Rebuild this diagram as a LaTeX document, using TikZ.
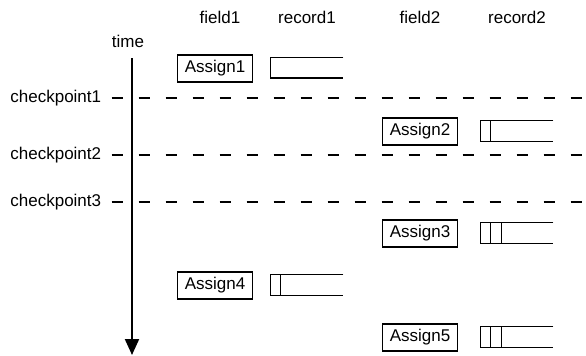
\documentclass[tikz,border=0pt]{standalone}
\usepackage{fontspec}
\setmainfont{Liberation Sans}
\usetikzlibrary{arrows.meta,calc}

\begin{document}
\begin{tikzpicture}[x=0.5pt,y=-0.5pt,font=\fontsize{8.5}{10}\selectfont,
    assign/.style={draw,line width=0.6pt,minimum width=37.5pt,minimum height=13.5pt,inner sep=0pt},
    record/.style={minimum width=36pt,minimum height=10pt,inner sep=0pt},
    check/.style={line width=0.6pt,dash pattern=on 5.5pt off 8pt}]
  \useasboundingbox (0,0) rectangle (586,355);
  \coordinate (edge) at (586,0);
  % column heads
  \node (field1)  at (220,17) {field1};
  \node (record1) at (307,17) {record1};
  \node (field2)  at (420,17) {field2};
  \node (record2) at (517,17) {record2};
  % time axis
  \node (time) at (128,41) {time};
  \coordinate (t0) at (132,58);
  \coordinate (t1) at (132,355);
  \draw[line width=1pt,-{Triangle[length=8pt,width=7pt]}] (t0) -- (t1);
  % checkpoints
  \foreach \c/\y in {1/98,2/155,3/202} {
    \node[anchor=west,inner sep=0pt] (cp\c) at (10,\y) {checkpoint\c};
    \draw[check] ([xshift=5pt]cp\c.east) -- (cp\c.east -| edge);
  }
  % assignments
  \node[assign] (a1) at (215,68.5)  {Assign1};
  \node[assign] (a2) at (420,131.5) {Assign2};
  \node[assign] (a3) at (420,233.5) {Assign3};
  \node[assign] (a4) at (215,285.5) {Assign4};
  \node[assign] (a5) at (420,337.5) {Assign5};
  % records
  \node[record] (r1) at (307,67.5) {};
  \node[record] (r2) at (517,131)  {};
  \node[record] (r3) at (517,233)  {};
  \node[record] (r4) at (307,285)  {};
  \node[record] (r5) at (517,337)  {};
  \foreach \r/\s in {r1/{0},r2/{10},r3/{10,21},r4/{10},r5/{10,21}} {
    \draw[line width=0.6pt] (\r.north east) -- (\r.north west) -- (\r.south west) -- (\r.south east);
    \foreach \k in \s
      \draw[line width=0.6pt] ($(\r.north west)+(\k,0)$) -- ($(\r.south west)+(\k,0)$);
  }
\end{tikzpicture}
\end{document}
